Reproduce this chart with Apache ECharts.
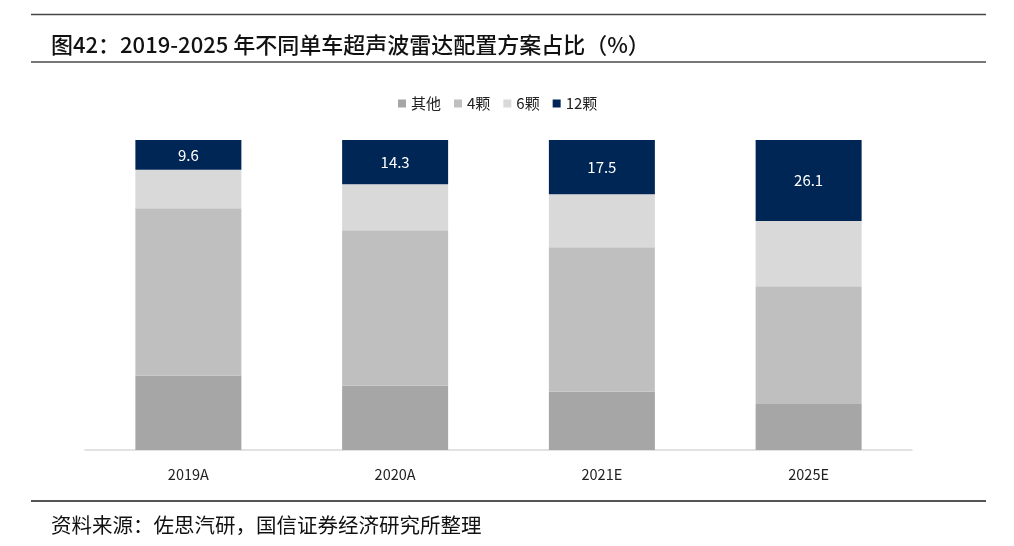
<!DOCTYPE html>
<html>
<head>
<meta charset="utf-8">
<script src="https://cdn.jsdelivr.net/npm/echarts@6/dist/echarts.min.js"></script>
<style>
html,body{margin:0;padding:0;background:#fff;}
#main{width:1014px;height:546px;}
</style>
</head>
<body>
<div id="main"></div>
<script>
const categories = ['2019A', '2020A', '2021E', '2025E'];
const seriesNames = ['其他', '4颗', '6颗', '12颗'];
const otherVals = [24.0, 20.7, 18.8, 14.8];
const four = [54.0, 50.2, 46.6, 38.0];
const six = [12.4, 14.8, 17.1, 21.1];
const twelve = [9.6, 14.3, 17.5, 26.1];

const colors = ['#a6a6a6', '#bfbfbf', '#d9d9d9', '#002656'];
const FONT = '"Noto Sans CJK SC", "Noto Sans", sans-serif';

const chart = echarts.init(document.getElementById('main'));
const dataSets = [otherVals, four, six, twelve];

chart.setOption({
  animation: false,
  backgroundColor: '#fff',
  title: [
    {
      text: '图42：2019-2025 年不同单车超声波雷达配置方案占比（%）',
      left: 46, top: 29,
      textStyle: { fontFamily: FONT, fontSize: 22, fontWeight: 500, color: '#111' }
    },
    {
      text: '资料来源：佐思汽研，国信证券经济研究所整理',
      left: 46, top: 510,
      textStyle: { fontFamily: FONT, fontSize: 20.5, fontWeight: 'normal', color: '#111' }
    }
  ],
  graphic: [
    { type: 'line', shape: { x1: 31, y1: 14.5, x2: 986, y2: 14.5 }, style: { stroke: '#444', lineWidth: 1.5 } },
    { type: 'line', shape: { x1: 31, y1: 62, x2: 986, y2: 62 }, style: { stroke: '#777', lineWidth: 2 } },
    { type: 'line', shape: { x1: 31, y1: 501, x2: 986, y2: 501 }, style: { stroke: '#555', lineWidth: 2 } }
  ],
  legend: {
    data: seriesNames,
    left: 393, top: 91,
    itemWidth: 8, itemHeight: 8, itemGap: 13,
    icon: 'rect',
    textStyle: { fontFamily: FONT, fontSize: 15, color: '#222' }
  },
  grid: { left: 85, right: 102, top: 140, bottom: 96 },
  xAxis: {
    type: 'category',
    data: categories,
    axisLine: { lineStyle: { color: '#d9d9d9', width: 1.5 } },
    axisTick: { show: false },
    axisLabel: { fontFamily: FONT, fontSize: 14.5, color: '#222', margin: 17 }
  },
  yAxis: {
    type: 'value', min: 0, max: 100, show: false,
    splitLine: { show: false }
  },
  series: seriesNames.map((name, i) => ({
    name: name,
    type: 'bar',
    stack: 'total',
    barWidth: 106,
    data: dataSets[i],
    itemStyle: { color: colors[i] },
    label: i === 3 ? {
      show: true, position: 'inside', color: '#fff',
      fontFamily: FONT, fontSize: 15,
      formatter: p => p.value.toFixed(1)
    } : { show: false }
  }))
});
</script>
</body>
</html>
